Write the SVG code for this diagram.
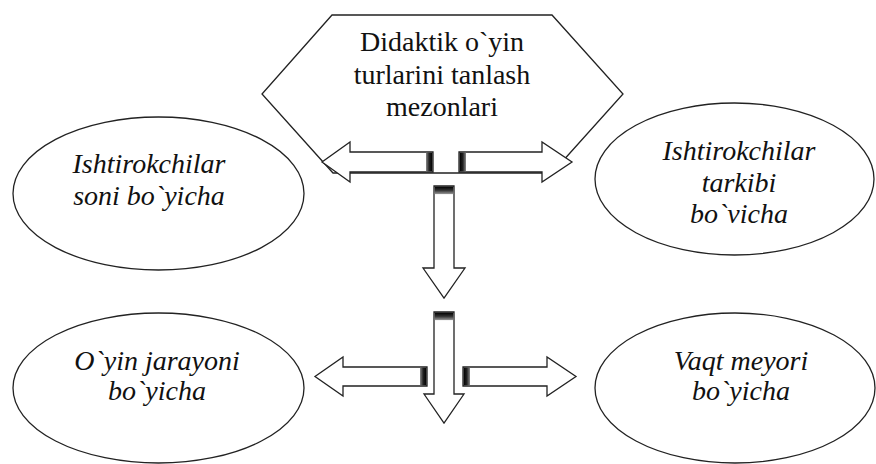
<svg xmlns="http://www.w3.org/2000/svg" width="876" height="464" viewBox="0 0 876 464">
<defs>
<linearGradient id="bandH" x1="0" y1="0" x2="1" y2="0">
<stop offset="0" stop-color="#888"/><stop offset="0.5" stop-color="#222"/><stop offset="1" stop-color="#000"/>
</linearGradient>
<linearGradient id="bandHr" x1="1" y1="0" x2="0" y2="0">
<stop offset="0" stop-color="#888"/><stop offset="0.5" stop-color="#222"/><stop offset="1" stop-color="#000"/>
</linearGradient>
<linearGradient id="bandV" x1="0" y1="1" x2="0" y2="0">
<stop offset="0" stop-color="#999"/><stop offset="0.5" stop-color="#333"/><stop offset="1" stop-color="#000"/>
</linearGradient>
</defs>
<style>
.shape{fill:#fff;stroke:#222;stroke-width:1.3}
.arrow{fill:#fff;stroke:#222;stroke-width:1.3;stroke-linejoin:miter}
</style>
<rect width="876" height="464" fill="#fff"/>

<g font-family="Liberation Serif, Times New Roman, serif" font-size="28" fill="#111" text-anchor="middle">
<g id="hexagon">
<polygon class="shape" points="332,15 552,15 623,94 552,173 333,173 262,94"/>
<text x="442" y="51">Didaktik o`yin</text>
<text x="442" y="84">turlarini tanlash</text>
<text x="442" y="116">mezonlari</text>
</g>

<g id="e1" font-style="italic">
<ellipse class="shape" cx="158.5" cy="193.5" rx="145.5" ry="76.5"/>
<text x="149" y="173">Ishtirokchilar</text>
<text x="149" y="205">soni bo`yicha</text>
</g>

<g id="e2" font-style="italic">
<ellipse class="shape" cx="734.5" cy="179" rx="139.5" ry="76"/>
<text x="739" y="160">Ishtirokchilar</text>
<text x="739" y="192">tarkibi</text>
<text x="739" y="223">bo`vicha</text>
</g>

<g id="e3" font-style="italic">
<ellipse class="shape" cx="158.5" cy="388" rx="145.5" ry="75"/>
<text x="157" y="370">O`yin jarayoni</text>
<text x="157" y="400">bo`yicha</text>
</g>

<g id="e4" font-style="italic">
<ellipse class="shape" cx="735" cy="388" rx="140" ry="75"/>
<text x="741" y="370">Vaqt meyori</text>
<text x="741" y="400">bo`yicha</text>
</g>
</g>

<g id="connectors">
<g id="arrow-left-top">
<polygon class="arrow" points="433,152 350,152 350,142 322,162 350,182 350,172 433,172"/>
<rect x="426" y="152.7" width="6.4" height="18.6" fill="url(#bandH)"/>
</g>
<g id="arrow-right-top">
<polygon class="arrow" points="459,152 542,152 542,142 572,162 542,182 542,172 459,172"/>
<rect x="459.6" y="152.7" width="6.4" height="18.6" fill="url(#bandHr)"/>
</g>
<g id="arrow-down-1">
<polygon class="arrow" points="434,186 454,186 454,268 465,268 444,298 423,268 434,268"/>
<rect x="434.7" y="186.6" width="18.6" height="7.5" fill="url(#bandV)"/>
</g>
<g id="arrow-down-2">
<polygon class="arrow" points="434,312 454,312 454,394 464,394 444,423 424,394 434,394"/>
<rect x="434.7" y="312.6" width="18.6" height="7.5" fill="url(#bandV)"/>
</g>
<g id="arrow-left-bottom">
<polygon class="arrow" points="427,367 343,367 343,357 315,376.5 343,396 343,386 427,386"/>
<rect x="420" y="367.7" width="6.4" height="17.6" fill="url(#bandH)"/>
</g>
<g id="arrow-right-bottom">
<polygon class="arrow" points="463,367 547,367 547,357 576,376.5 547,396 547,386 463,386"/>
<rect x="463.6" y="367.7" width="6.4" height="17.6" fill="url(#bandHr)"/>
</g>
</g>
</svg>
